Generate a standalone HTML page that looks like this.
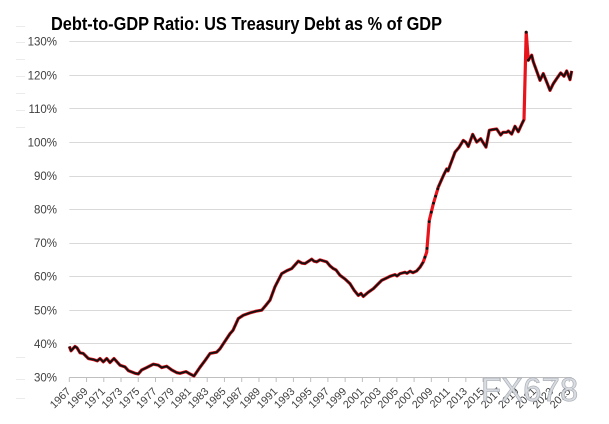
<!DOCTYPE html>
<html>
<head>
<meta charset="utf-8">
<style>
html,body{margin:0;padding:0;background:#fff;}
svg{display:block}
</style>
</head>
<body>
<svg width="609" height="424" viewBox="0 0 609 424" xmlns="http://www.w3.org/2000/svg" font-family="'Liberation Sans', Arial, sans-serif">
<rect width="609" height="424" fill="#fff"/>

<!-- faint left marks -->
<g stroke="#ebebeb" stroke-width="1">
<line x1="16" y1="26.5" x2="25" y2="26.5"/>
<line x1="16" y1="42.5" x2="25" y2="42.5"/>
<line x1="16" y1="59.5" x2="25" y2="59.5"/>
<line x1="16" y1="76.5" x2="25" y2="76.5"/>
<line x1="16" y1="93.5" x2="25" y2="93.5"/>
<line x1="16" y1="110.5" x2="25" y2="110.5"/>
<line x1="16" y1="127.5" x2="25" y2="127.5"/>
<line x1="16" y1="357.5" x2="25" y2="357.5"/>
<line x1="16" y1="379.5" x2="25" y2="379.5"/>
<line x1="16" y1="398.5" x2="25" y2="398.5"/>
</g>

<!-- title -->
<text x="51" y="30" font-size="18" font-weight="bold" fill="#000" textLength="391" lengthAdjust="spacingAndGlyphs">Debt-to-GDP Ratio: US Treasury Debt as % of GDP</text>

<!-- gridlines -->
<g stroke="#d9d9d9" stroke-width="1">
<line x1="69.3" y1="41.5" x2="571.7" y2="41.5"/>
<line x1="69.3" y1="75.5" x2="571.7" y2="75.5"/>
<line x1="69.3" y1="108.5" x2="571.7" y2="108.5"/>
<line x1="69.3" y1="142.5" x2="571.7" y2="142.5"/>
<line x1="69.3" y1="176.5" x2="571.7" y2="176.5"/>
<line x1="69.3" y1="209.5" x2="571.7" y2="209.5"/>
<line x1="69.3" y1="243.5" x2="571.7" y2="243.5"/>
<line x1="69.3" y1="276.5" x2="571.7" y2="276.5"/>
<line x1="69.3" y1="310.5" x2="571.7" y2="310.5"/>
<line x1="69.3" y1="343.5" x2="571.7" y2="343.5"/>
</g>

<!-- axis -->
<line x1="69.3" y1="377.5" x2="571.7" y2="377.5" stroke="#bfbfbf" stroke-width="1"/>
<g stroke="#bfbfbf" stroke-width="1">
<line x1="69.3" y1="377.5" x2="69.3" y2="382"/>
<line x1="86.54" y1="377.5" x2="86.54" y2="382"/>
<line x1="103.78" y1="377.5" x2="103.78" y2="382"/>
<line x1="121.02" y1="377.5" x2="121.02" y2="382"/>
<line x1="138.26" y1="377.5" x2="138.26" y2="382"/>
<line x1="155.5" y1="377.5" x2="155.5" y2="382"/>
<line x1="172.74" y1="377.5" x2="172.74" y2="382"/>
<line x1="189.98" y1="377.5" x2="189.98" y2="382"/>
<line x1="207.22" y1="377.5" x2="207.22" y2="382"/>
<line x1="224.46" y1="377.5" x2="224.46" y2="382"/>
<line x1="241.7" y1="377.5" x2="241.7" y2="382"/>
<line x1="258.94" y1="377.5" x2="258.94" y2="382"/>
<line x1="276.18" y1="377.5" x2="276.18" y2="382"/>
<line x1="293.42" y1="377.5" x2="293.42" y2="382"/>
<line x1="310.66" y1="377.5" x2="310.66" y2="382"/>
<line x1="327.9" y1="377.5" x2="327.9" y2="382"/>
<line x1="345.14" y1="377.5" x2="345.14" y2="382"/>
<line x1="362.38" y1="377.5" x2="362.38" y2="382"/>
<line x1="379.62" y1="377.5" x2="379.62" y2="382"/>
<line x1="396.86" y1="377.5" x2="396.86" y2="382"/>
<line x1="414.1" y1="377.5" x2="414.1" y2="382"/>
<line x1="431.34" y1="377.5" x2="431.34" y2="382"/>
<line x1="448.58" y1="377.5" x2="448.58" y2="382"/>
<line x1="465.82" y1="377.5" x2="465.82" y2="382"/>
<line x1="483.06" y1="377.5" x2="483.06" y2="382"/>
<line x1="500.3" y1="377.5" x2="500.3" y2="382"/>
<line x1="517.54" y1="377.5" x2="517.54" y2="382"/>
<line x1="534.78" y1="377.5" x2="534.78" y2="382"/>
<line x1="552.02" y1="377.5" x2="552.02" y2="382"/>
<line x1="569.26" y1="377.5" x2="569.26" y2="382"/>
</g>

<!-- y labels -->
<g font-size="11.5" fill="#404040" text-anchor="end">
<text x="57" y="45.6">130%</text>
<text x="57" y="79.4">120%</text>
<text x="57" y="112.9">110%</text>
<text x="57" y="146.5">100%</text>
<text x="57" y="180.1">90%</text>
<text x="57" y="213.6">80%</text>
<text x="57" y="247.2">70%</text>
<text x="57" y="280.7">60%</text>
<text x="57" y="314.3">50%</text>
<text x="57" y="347.9">40%</text>
<text x="57" y="381.4">30%</text>
</g>

<!-- x labels -->
<g font-size="10.8" fill="#404040" text-anchor="end">
<text x="71.3" y="392" transform="rotate(-45 71.3 392)">1967</text>
<text x="88.54" y="392" transform="rotate(-45 88.54 392)">1969</text>
<text x="105.78" y="392" transform="rotate(-45 105.78 392)">1971</text>
<text x="123.02" y="392" transform="rotate(-45 123.02 392)">1973</text>
<text x="140.26" y="392" transform="rotate(-45 140.26 392)">1975</text>
<text x="157.5" y="392" transform="rotate(-45 157.5 392)">1977</text>
<text x="174.74" y="392" transform="rotate(-45 174.74 392)">1979</text>
<text x="191.98" y="392" transform="rotate(-45 191.98 392)">1981</text>
<text x="209.22" y="392" transform="rotate(-45 209.22 392)">1983</text>
<text x="226.46" y="392" transform="rotate(-45 226.46 392)">1985</text>
<text x="243.7" y="392" transform="rotate(-45 243.7 392)">1987</text>
<text x="260.94" y="392" transform="rotate(-45 260.94 392)">1989</text>
<text x="278.18" y="392" transform="rotate(-45 278.18 392)">1991</text>
<text x="295.42" y="392" transform="rotate(-45 295.42 392)">1993</text>
<text x="312.66" y="392" transform="rotate(-45 312.66 392)">1995</text>
<text x="329.9" y="392" transform="rotate(-45 329.9 392)">1997</text>
<text x="347.14" y="392" transform="rotate(-45 347.14 392)">1999</text>
<text x="364.38" y="392" transform="rotate(-45 364.38 392)">2001</text>
<text x="381.62" y="392" transform="rotate(-45 381.62 392)">2003</text>
<text x="398.86" y="392" transform="rotate(-45 398.86 392)">2005</text>
<text x="416.1" y="392" transform="rotate(-45 416.1 392)">2007</text>
<text x="433.34" y="392" transform="rotate(-45 433.34 392)">2009</text>
<text x="450.58" y="392" transform="rotate(-45 450.58 392)">2011</text>
<text x="467.82" y="392" transform="rotate(-45 467.82 392)">2013</text>
<text x="485.06" y="392" transform="rotate(-45 485.06 392)">2015</text>
<text x="502.3" y="392" transform="rotate(-45 502.3 392)">2017</text>
<text x="519.54" y="392" transform="rotate(-45 519.54 392)">2019</text>
<text x="536.78" y="392" transform="rotate(-45 536.78 392)">2021</text>
<text x="554.02" y="392" transform="rotate(-45 554.02 392)">2023</text>
<text x="571.26" y="392" transform="rotate(-45 571.26 392)">2025</text>
</g>

<!-- series: red line -->
<polyline fill="none" stroke="#e8141c" stroke-width="3.2" stroke-linejoin="round" vector-effect="non-scaling-stroke"
 transform="matrix(1 0 0 -3.356 0 478)"
 points="69.3,39.2 71,37.9 75,39.2 77,38.8 80,37.3 83.3,37.1 88.3,35.6 93.3,35.3 97.3,34.9 100,35.6 103.3,34.6 106.7,35.6 110,34.4 114,35.6 120,33.6 125,33.1 128.3,32.0 135,31.2 138.3,31.0 141.7,32.2 146.7,32.9 153.3,33.9 158.3,33.6 161.7,32.9 166.7,33.3 171.7,32.2 176.7,31.4 180,31.2 186,31.7 190,31.0 194,30.4 200,33.0 205,35 210,37.1 216.7,37.5 220,38.5 223.3,40.0 230,43.0 233,44 238.3,47.5 243.3,48.5 250,49.2 256,49.7 261.7,50.0 266,51.5 270,53 275,57 281.7,60.9 287,61.8 291.7,62.4 298.3,64.6 302,64.0 305,63.9 311.7,65.2 314,64.6 316.7,64.4 320,65 326.7,64.4 330,63.2 333.3,62.4 336,62.0 340,60.4 345,59.3 350,57.9 354,56 358.3,54.4 361,55 363.3,54.1 368,55.3 373.3,56.4 378,57.8 381.7,58.9 386,59.5 390,60.1 395,60.6 397,60.2 400,60.9 405,61.3 407,61 410,61.6 413,61.2 416.7,61.7 420,62.8 423.3,64.4 426.7,67.3 429.3,76.8 433.3,81.7 438.3,86.7 444,90.5 446.7,92.1 448,91.5 450,93.1 455,97.1 459,98.5 463.3,100.6 466,100.0 468.3,98.8 472.7,102.4 476.7,100.1 480.7,101.1 486,98.6 489.3,103.6 492,103.8 496.7,104.0 500.7,102.2 503,103 506.7,103 508.3,103.4 511.7,102.5 515,104.8 518.3,103.2 522,105.6 524.0,106.8 526.2,132.8 528.3,124.5 531.7,126 533.3,124 537,121 540,118.5 543.3,120.5 546.7,118 550,115.5 553.3,117.5 556.7,119 560.7,120.7 564,119.7 566.7,121.3 570,118.7 571.7,121.3"/>

<!-- series: black marker overlay (flat sections) -->
<path fill="none" stroke="#111" stroke-width="1.9" stroke-linejoin="round" vector-effect="non-scaling-stroke"
 transform="matrix(1 0 0 -3.356 0 478)"
 d="M69.3,39.2 L71,37.9 75,39.2 77,38.8 80,37.3 83.3,37.1 88.3,35.6 93.3,35.3 97.3,34.9 100,35.6 103.3,34.6 106.7,35.6 110,34.4 114,35.6 120,33.6 125,33.1 128.3,32.0 135,31.2 138.3,31.0 141.7,32.2 146.7,32.9 153.3,33.9 158.3,33.6 161.7,32.9 166.7,33.3 171.7,32.2 176.7,31.4 180,31.2 186,31.7 190,31.0 194,30.4 200,33.0 205,35 210,37.1 216.7,37.5 220,38.5 223.3,40.0 230,43.0 233,44 238.3,47.5 243.3,48.5 250,49.2 256,49.7 261.7,50.0 266,51.5 270,53 275,57 281.7,60.9 287,61.8 291.7,62.4 298.3,64.6 302,64.0 305,63.9 311.7,65.2 314,64.6 316.7,64.4 320,65 326.7,64.4 330,63.2 333.3,62.4 336,62.0 340,60.4 345,59.3 350,57.9 354,56 358.3,54.4 361,55 363.3,54.1 368,55.3 373.3,56.4 378,57.8 381.7,58.9 386,59.5 390,60.1 395,60.6 397,60.2 400,60.9 405,61.3 407,61 410,61.6 413,61.2 416.7,61.7 420,62.8 423.3,64.4
 M438.3,86.7 L444,90.5 446.7,92.1 448,91.5 450,93.1 455,97.1 459,98.5 463.3,100.6 466,100.0 468.3,98.8 472.7,102.4 476.7,100.1 480.7,101.1 486,98.6 489.3,103.6 492,103.8 496.7,104.0 500.7,102.2 503,103 506.7,103 508.3,103.4 511.7,102.5 515,104.8 518.3,103.2 522,105.6 524.0,106.8
 M528.3,124.5 L531.7,126 533.3,124 537,121 540,118.5 543.3,120.5 546.7,118 550,115.5 553.3,117.5 556.7,119 560.7,120.7 564,119.7 566.7,121.3 570,118.7 571.7,121.3"/>

<!-- markers on steep sections -->
<g fill="#111">
<circle cx="424.9" cy="257.2" r="1.4"/>
<circle cx="427.0" cy="248.4" r="1.4"/>
<circle cx="429.2" cy="221.6" r="1.4"/>
<circle cx="431.3" cy="212.2" r="1.4"/>
<circle cx="433.5" cy="203.1" r="1.4"/>
<circle cx="435.6" cy="196.1" r="1.4"/>
<circle cx="437.8" cy="188.7" r="1.4"/>
<circle cx="526.2" cy="32.3" r="1.5"/>
<circle cx="528.3" cy="60.2" r="1.4"/>
</g>

<!-- watermark -->
<text x="481" y="401" font-size="33" fill="#d6d9de" fill-opacity="0.92" stroke="#aab0b8" stroke-width="0.7">FX678</text>
</svg>
</body>
</html>
